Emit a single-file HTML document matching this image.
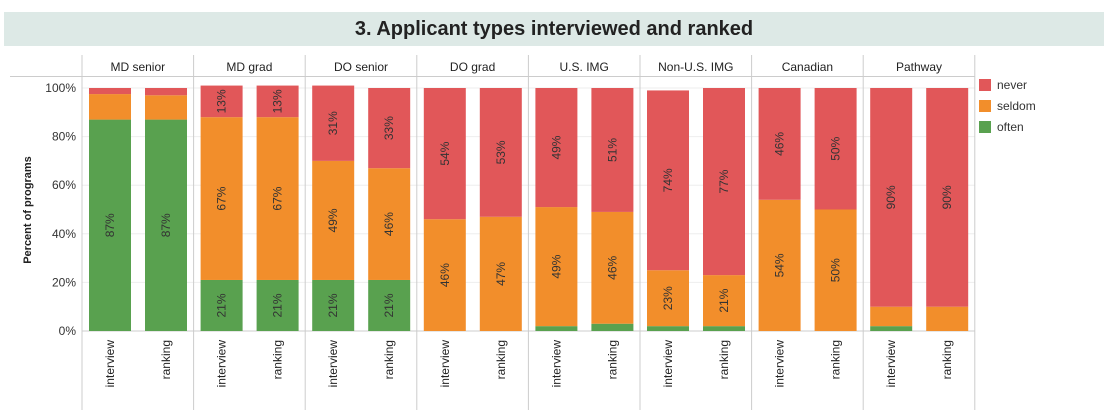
<!DOCTYPE html>
<html><head><meta charset="utf-8"><style>
body{margin:0;background:#fff;font-family:"Liberation Sans",sans-serif;}
#title{position:absolute;left:4px;top:12px;width:1100px;height:34px;background:#dde9e6;font-weight:bold;font-size:20px;color:#222;text-align:center;line-height:34px}
</style></head><body>
<div id="title">3. Applicant types interviewed and ranked</div>
<svg id="chart" width="1108" height="415" style="position:absolute;left:0;top:0"></svg>
<script>
const groups=["MD senior","MD grad","DO senior","DO grad","U.S. IMG","Non-U.S. IMG","Canadian","Pathway"];
const stages=["interview","ranking"];
const often=[87,87,21,21,21,21,0,0,2,3,2,2,0,0,2,0];
const seldom=[10.5,10,67,67,49,46,46,47,49,46,23,21,54,50,8,10];
const never=[2.5,3,13,13,31,33,54,53,49,51,74,77,46,50,90,90];
const yTicks=[0,20,40,60,80,100];
const legendLabels=["never","seldom","often"];
const colors={never:"#e15759",seldom:"#f28e2b",often:"#59a14f"};
const svg=document.getElementById('chart');const NS="http://www.w3.org/2000/svg";
function el(t,a,p){const e=document.createElementNS(NS,t);for(const k in a)e.setAttribute(k,a[k]);(p||svg).appendChild(e);return e;}
const x0=82,pw=111.6,plotTop=88,plotBot=331;
const y=v=>plotBot-v*(plotBot-plotTop)/100;
const px=i=>x0+i*pw;
yTicks.forEach(t=>{const g=el('line',{x1:x0,x2:px(8),y1:y(t),y2:y(t),stroke:t==0?'#ccc':'#eee','stroke-width':1});

const l=el('text',{x:76,y:y(t)+4,'text-anchor':'end','font-size':12,fill:'#333'});l.textContent=t+'%';
});
const yt=el('text',{x:31,y:210,'text-anchor':'middle','font-size':11,'font-weight':'bold',fill:'#222',transform:'rotate(-90 31 210)'});yt.textContent='Percent of programs';

el('line',{x1:10,x2:px(8),y1:76.5,y2:76.5,stroke:'#ccc'});
for(let i=0;i<=8;i++){const s=el('line',{x1:px(i),x2:px(i),y1:55,y2:410,stroke:'#ccc'});}
groups.forEach((g,i)=>{const h=el('text',{x:px(i)+pw/2,y:71,'text-anchor':'middle','font-size':12,fill:'#222'});h.textContent=g;

stages.forEach((s,j)=>{const k=i*2+j;const bx=px(i)+7+j*56,bw=42;
let base=0;
[["often",often[k]],["seldom",seldom[k]],["never",never[k]]].forEach(([n,v])=>{
const r=el('rect',{x:bx,y:y(base+v),width:bw,height:Math.max(0,y(base)-y(base+v)),fill:colors[n]});

if(v>=13){const cy=(y(base)+y(base+v))/2,cx=bx+bw/2;const t=el('text',{x:cx,y:cy+4,'text-anchor':'middle','font-size':12,fill:'#333',transform:`rotate(-90 ${cx} ${cy})`});
t.textContent=Math.round(v)+'%';
}
base+=v;});
const cx=bx+bw/2+4;const xl=el('text',{x:cx,y:340,'text-anchor':'end','font-size':12,fill:'#222',transform:`rotate(-90 ${cx} 340)`});
xl.textContent=s;

});});
legendLabels.forEach((n,i)=>{const r=el('rect',{x:979,y:79+i*21,width:12,height:12,fill:colors[n]});

const t=el('text',{x:997,y:89+i*21,'font-size':12,fill:'#333'});t.textContent=n;
});
</script>
</body></html>
